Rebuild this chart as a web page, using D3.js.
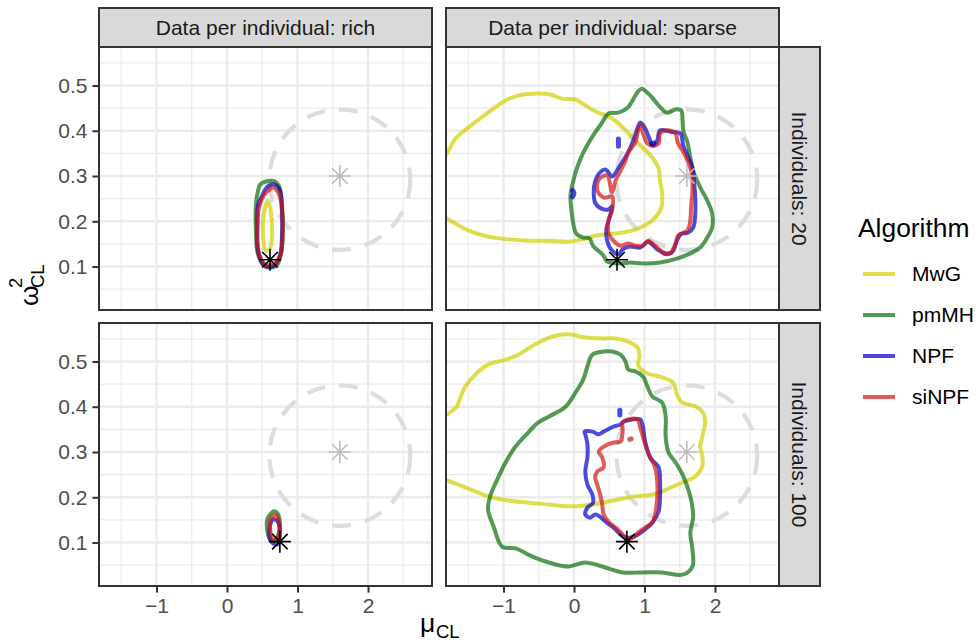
<!DOCTYPE html>
<html>
<head>
<meta charset="utf-8">
<script src="https://cdn.jsdelivr.net/npm/d3@7"></script>
<style>
  body { margin: 0; background: #fff; }
  text { font-family: "Liberation Sans", Arial, Helvetica, sans-serif; }
</style>
</head>
<body>
<div id="chart"></div>
<script>
// facets and series
var dataKinds = ['rich', 'sparse'];
var individuals = [20, 100];
var algorithms = ['MwG', 'pmMH', 'NPF', 'siNPF'];
var xTicks = [-1, 0, 1, 2];
var xMinor = [-1.5, -0.5, 0.5, 1.5, 2.5];
var yTicks = [0.1, 0.2, 0.3, 0.4, 0.5];
var yMinor = [0.05, 0.15, 0.25, 0.35, 0.45, 0.55];

// true value (black star) per number of individuals, prior centre (grey star)
var truth = { 20: [0.61, 0.115], 100: [0.75, 0.102] };
var priorCentre = [1.6, 0.3];
var priorRing = { mu: 1.6, omega2: 0.292, rMu: 1.0, rOmega2: 0.155 };

// contour outlines, [mu, omega2]
var rich20MwG = [[0.58,0.246],[0.62,0.224],[0.64,0.180],[0.61,0.140],[0.55,0.135],[0.51,0.169],[0.52,0.213]];
var rich20pmMH = [[0.44,0.268],[0.47,0.281],[0.55,0.288],[0.68,0.288],[0.74,0.277],[0.78,0.235],[0.79,0.180],
  [0.77,0.131],[0.70,0.102],[0.54,0.100],[0.44,0.127],[0.41,0.180],[0.41,0.235]];
var rich20NPF = [[0.50,0.257],[0.58,0.277],[0.68,0.281],[0.75,0.268],[0.78,0.224],[0.78,0.169],[0.75,0.124],
  [0.64,0.100],[0.52,0.104],[0.44,0.135],[0.43,0.191],[0.44,0.235]];
var rich20siNPF = [[0.65,0.275],[0.74,0.259],[0.78,0.224],[0.79,0.180],[0.77,0.135],[0.70,0.109],[0.55,0.104],
  [0.45,0.131],[0.43,0.180],[0.45,0.228],[0.52,0.257],[0.60,0.270]];

var rich100pmMH = [[0.61,0.162],[0.67,0.169],[0.72,0.164],[0.75,0.144],[0.74,0.122],[0.68,0.104],[0.61,0.107],[0.57,0.129],[0.57,0.151]];
var rich100NPF = [[0.65,0.151],[0.72,0.146],[0.75,0.118],[0.72,0.096],[0.64,0.100],[0.60,0.124]];
var rich100siNPF = [[0.64,0.157],[0.70,0.160],[0.74,0.142],[0.74,0.120],[0.70,0.107],[0.64,0.109],[0.61,0.129],[0.61,0.146]];

var sparse20MwG = [[-2.0,0.31],[-1.80,0.350],[-1.68,0.383],[-1.50,0.407],[-1.22,0.440],[-0.97,0.467],[-0.73,0.480],
  [-0.55,0.482],[-0.34,0.480],[-0.17,0.471],[0.02,0.469],[0.16,0.456],[0.30,0.443],[0.54,0.427],[0.69,0.407],
  [0.83,0.385],[0.97,0.363],[1.11,0.341],[1.20,0.317],[1.22,0.290],[1.25,0.261],[1.24,0.230],[1.15,0.208],
  [1.01,0.191],[0.83,0.180],[0.59,0.173],[0.34,0.169],[0.12,0.160],[-0.08,0.155],[-0.36,0.157],[-0.65,0.157],
  [-0.93,0.160],[-1.22,0.166],[-1.50,0.180],[-1.68,0.195],[-1.80,0.206],[-1.95,0.225],[-2.1,0.26]];
var sparse20pmMH = [[0.96,0.493],[1.08,0.478],[1.20,0.456],[1.32,0.440],[1.44,0.447],[1.52,0.445],[1.54,0.423],
  [1.55,0.401],[1.61,0.374],[1.65,0.341],[1.69,0.312],[1.79,0.275],[1.89,0.246],[1.96,0.217],[1.96,0.186],
  [1.89,0.164],[1.79,0.142],[1.65,0.129],[1.47,0.118],[1.22,0.109],[0.98,0.107],[0.80,0.109],[0.66,0.107],
  [0.47,0.111],[0.42,0.124],[0.27,0.146],[0.22,0.162],[0.13,0.164],[0.03,0.173],[-0.01,0.195],[-0.04,0.230],
  [-0.05,0.257],[-0.02,0.283],[0.03,0.312],[0.10,0.341],[0.17,0.363],[0.29,0.394],[0.39,0.416],[0.49,0.438],
  [0.63,0.440],[0.76,0.451],[0.83,0.467],[0.90,0.485]];
var sparse20NPF = [[0.94,0.418],[1.01,0.405],[1.08,0.378],[1.12,0.367],[1.18,0.378],[1.22,0.401],[1.37,0.398],
  [1.51,0.394],[1.55,0.367],[1.62,0.341],[1.68,0.319],[1.70,0.290],[1.72,0.252],[1.72,0.217],[1.69,0.186],
  [1.62,0.175],[1.51,0.171],[1.45,0.153],[1.40,0.133],[1.31,0.127],[1.18,0.138],[1.05,0.155],[0.94,0.142],
  [0.80,0.144],[0.69,0.138],[0.63,0.127],[0.54,0.135],[0.47,0.157],[0.46,0.184],[0.50,0.206],[0.54,0.233],
  [0.49,0.226],[0.39,0.228],[0.30,0.241],[0.28,0.266],[0.30,0.288],[0.37,0.308],[0.45,0.314],[0.54,0.299],
  [0.63,0.317],[0.72,0.339],[0.80,0.363],[0.87,0.390]];
var sparse20siNPF = [[0.94,0.412],[0.98,0.394],[1.04,0.372],[1.12,0.367],[1.20,0.372],[1.22,0.394],[1.32,0.401],
  [1.44,0.394],[1.47,0.374],[1.54,0.356],[1.61,0.334],[1.67,0.306],[1.68,0.268],[1.66,0.230],[1.65,0.202],
  [1.61,0.180],[1.48,0.169],[1.44,0.151],[1.37,0.131],[1.27,0.131],[1.15,0.146],[1.05,0.157],[0.98,0.146],
  [0.87,0.146],[0.77,0.151],[0.66,0.146],[0.56,0.157],[0.49,0.173],[0.49,0.202],[0.54,0.224],[0.54,0.255],
  [0.43,0.252],[0.33,0.268],[0.36,0.294],[0.47,0.301],[0.54,0.264],[0.59,0.290],[0.66,0.312],[0.73,0.334],
  [0.77,0.352],[0.87,0.374],[0.91,0.401]];

var sparse100MwG = [[-2.05,0.36],[-1.80,0.383],[-1.66,0.401],[-1.61,0.422],[-1.54,0.445],[-1.40,0.471],[-1.22,0.493],
  [-0.97,0.504],[-0.79,0.515],[-0.55,0.538],[-0.31,0.555],[-0.08,0.560],[0.16,0.553],[0.40,0.551],[0.59,0.551],
  [0.77,0.544],[0.90,0.531],[0.93,0.511],[0.91,0.493],[1.01,0.476],[1.25,0.465],[1.40,0.454],[1.47,0.423],
  [1.54,0.409],[1.72,0.401],[1.83,0.387],[1.86,0.365],[1.82,0.334],[1.79,0.312],[1.82,0.290],[1.82,0.268],
  [1.72,0.246],[1.54,0.233],[1.34,0.219],[1.11,0.206],[0.87,0.202],[0.63,0.195],[0.40,0.188],[0.16,0.182],
  [-0.08,0.180],[-0.36,0.184],[-0.65,0.188],[-0.93,0.193],[-1.22,0.202],[-1.40,0.213],[-1.58,0.224],
  [-1.80,0.237],[-2.0,0.245],[-2.2,0.30]];
var sparse100pmMH = [[0.42,0.522],[0.26,0.515],[0.19,0.489],[0.13,0.460],[0.02,0.431],[-0.12,0.400],[-0.36,0.378],
  [-0.51,0.365],[-0.65,0.343],[-0.83,0.312],[-0.97,0.277],[-1.09,0.239],[-1.19,0.202],[-1.22,0.173],[-1.14,0.135],
  [-1.02,0.091],[-0.83,0.087],[-0.59,0.069],[-0.36,0.056],[-0.08,0.047],[0.16,0.056],[0.40,0.047],[0.69,0.034],
  [0.97,0.034],[1.25,0.034],[1.54,0.029],[1.68,0.047],[1.68,0.085],[1.65,0.122],[1.69,0.157],[1.65,0.202],
  [1.54,0.250],[1.44,0.277],[1.34,0.299],[1.30,0.334],[1.30,0.378],[1.25,0.409],[1.11,0.423],[1.04,0.445],
  [0.98,0.467],[0.87,0.478],[0.77,0.482],[0.73,0.500],[0.66,0.515],[0.54,0.522]];
var sparse100NPF = [[0.94,0.372],[0.97,0.361],[1.01,0.323],[1.08,0.288],[1.20,0.266],[1.22,0.235],[1.22,0.199],
  [1.20,0.169],[1.12,0.146],[1.04,0.133],[0.91,0.118],[0.80,0.111],[0.70,0.113],[0.56,0.133],[0.45,0.146],
  [0.37,0.157],[0.30,0.162],[0.23,0.155],[0.16,0.162],[0.19,0.177],[0.27,0.188],[0.26,0.206],[0.19,0.228],
  [0.16,0.257],[0.19,0.288],[0.19,0.317],[0.16,0.339],[0.15,0.345],[0.26,0.345],[0.35,0.339],[0.42,0.345],
  [0.56,0.356],[0.66,0.361],[0.70,0.367],[0.83,0.372]];
var sparse100siNPF = [[0.77,0.372],[0.90,0.372],[0.94,0.354],[1.01,0.317],[1.08,0.288],[1.15,0.266],[1.18,0.235],
  [1.18,0.199],[1.15,0.162],[1.11,0.144],[1.01,0.133],[0.91,0.122],[0.83,0.111],[0.76,0.107],[0.69,0.118],
  [0.59,0.133],[0.49,0.146],[0.42,0.162],[0.40,0.184],[0.37,0.206],[0.33,0.228],[0.30,0.244],[0.33,0.257],
  [0.42,0.266],[0.40,0.288],[0.35,0.301],[0.42,0.312],[0.56,0.321],[0.66,0.323],[0.69,0.345],[0.69,0.365]];

// small isolated contour pieces
var sparse20NPFbits = [[[0.63,0.366],[0.63,0.382]], [[-0.02,0.254],[0.0,0.262],[-0.02,0.268]], [[1.10,0.371],[1.13,0.373]]];
var sparse100NPFbits = [[[0.65,0.382],[0.65,0.392]]];
var sparse100siNPFbits = [[[0.79,0.328],[0.81,0.329]]];

var contours = [
  { kind: 'rich', n: 20, alg: 'MwG', pts: rich20MwG },
  { kind: 'rich', n: 20, alg: 'pmMH', pts: rich20pmMH },
  { kind: 'rich', n: 20, alg: 'NPF', pts: rich20NPF },
  { kind: 'rich', n: 20, alg: 'siNPF', pts: rich20siNPF },
  { kind: 'rich', n: 100, alg: 'pmMH', pts: rich100pmMH },
  { kind: 'rich', n: 100, alg: 'NPF', pts: rich100NPF },
  { kind: 'rich', n: 100, alg: 'siNPF', pts: rich100siNPF },
  { kind: 'sparse', n: 20, alg: 'MwG', pts: sparse20MwG },
  { kind: 'sparse', n: 20, alg: 'pmMH', pts: sparse20pmMH },
  { kind: 'sparse', n: 20, alg: 'NPF', pts: sparse20NPF },
  { kind: 'sparse', n: 20, alg: 'siNPF', pts: sparse20siNPF },
  { kind: 'sparse', n: 100, alg: 'MwG', pts: sparse100MwG },
  { kind: 'sparse', n: 100, alg: 'pmMH', pts: sparse100pmMH },
  { kind: 'sparse', n: 100, alg: 'NPF', pts: sparse100NPF },
  { kind: 'sparse', n: 100, alg: 'siNPF', pts: sparse100siNPF }
];
var bits = [
  { kind: 'sparse', n: 20, alg: 'NPF', pieces: sparse20NPFbits },
  { kind: 'sparse', n: 100, alg: 'NPF', pieces: sparse100NPFbits },
  { kind: 'sparse', n: 100, alg: 'siNPF', pieces: sparse100siNPFbits }
];

var colour = d3.scaleOrdinal().domain(algorithms).range(['#d0d000', '#0a6e0a', '#0000cd', '#d51515']);

var width = 976, height = 643;
var panelW = 333, panelH = 263;
var colLeft = [99, 446];
var rowTop = [47, 323];
var lineW = 4;

var svg = d3.select('#chart').append('svg').attr('width', width).attr('height', height);

var x = d3.scaleLinear().domain([-1.816, 2.908]).range([0, panelW]);
var y = d3.scaleLinear().domain([0.004, 0.585]).range([panelH, 0]);

svg.append('defs').append('clipPath').attr('id', 'clip')
  .append('rect').attr('width', panelW).attr('height', panelH);

var contourLine = d3.line().x(function (d) { return x(d[0]); }).y(function (d) { return y(d[1]); })
  .curve(d3.curveCatmullRomClosed.alpha(0.5));
var pieceLine = d3.line().x(function (d) { return x(d[0]); }).y(function (d) { return y(d[1]); })
  .curve(d3.curveCatmullRom.alpha(0.5));

function star(r) {
  var d = r / Math.SQRT2;
  return 'M' + (-r) + ',0H' + r + 'M0,' + (-r) + 'V' + r +
    'M' + (-d) + ',' + (-d) + 'L' + d + ',' + d + 'M' + (-d) + ',' + d + 'L' + d + ',' + (-d);
}

function styleAxis(a) {
  a.select('.domain').remove();
  a.selectAll('.tick line').attr('stroke', '#333333').attr('stroke-width', 2);
  a.selectAll('.tick text').attr('font-size', 21).attr('fill', '#4d4d4d')
    .attr('font-family', '"Liberation Sans", Arial, sans-serif');
}

dataKinds.forEach(function (kind, ci) {
  individuals.forEach(function (n, ri) {
    var g = svg.append('g').attr('transform', 'translate(' + colLeft[ci] + ',' + rowTop[ri] + ')');

    // grid
    g.selectAll('.gxm').data(xMinor).enter().append('line')
      .attr('x1', x).attr('x2', x).attr('y1', 0).attr('y2', panelH)
      .attr('stroke', '#ebebeb').attr('stroke-width', 1.2);
    g.selectAll('.gym').data(yMinor).enter().append('line')
      .attr('y1', y).attr('y2', y).attr('x1', 0).attr('x2', panelW)
      .attr('stroke', '#ebebeb').attr('stroke-width', 1.2);
    g.selectAll('.gx').data(xTicks).enter().append('line')
      .attr('x1', x).attr('x2', x).attr('y1', 0).attr('y2', panelH)
      .attr('stroke', '#ebebeb').attr('stroke-width', 2.4);
    g.selectAll('.gy').data(yTicks).enter().append('line')
      .attr('y1', y).attr('y2', y).attr('x1', 0).attr('x2', panelW)
      .attr('stroke', '#ebebeb').attr('stroke-width', 2.4);

    var inner = g.append('g').attr('clip-path', 'url(#clip)');

    // prior ring
    inner.append('ellipse')
      .attr('cx', x(priorRing.mu)).attr('cy', y(priorRing.omega2))
      .attr('rx', x(priorRing.mu + priorRing.rMu) - x(priorRing.mu))
      .attr('ry', y(priorRing.omega2) - y(priorRing.omega2 + priorRing.rOmega2))
      .attr('fill', 'none').attr('stroke', '#dcdcdc').attr('stroke-width', 4.2)
      .attr('stroke-dasharray', '19,14');

    // contours
    inner.selectAll('.ct')
      .data(contours.filter(function (c) { return c.kind === kind && c.n === n; }))
      .enter().append('path')
      .attr('d', function (c) { return contourLine(c.pts); })
      .attr('fill', 'none')
      .attr('stroke', function (c) { return colour(c.alg); })
      .attr('stroke-opacity', 0.7)
      .attr('stroke-width', lineW)
      .attr('stroke-linejoin', 'round');

    bits.filter(function (b) { return b.kind === kind && b.n === n; }).forEach(function (b) {
      inner.selectAll(null).data(b.pieces).enter().append('path')
        .attr('d', function (p) { return pieceLine(p); })
        .attr('fill', 'none')
        .attr('stroke', colour(b.alg))
        .attr('stroke-opacity', 0.7)
        .attr('stroke-width', lineW + 1)
        .attr('stroke-linecap', 'round');
    });

    // stars
    inner.append('path').attr('d', star(11))
      .attr('transform', 'translate(' + x(priorCentre[0]) + ',' + y(priorCentre[1]) + ')')
      .attr('stroke', '#bdbdbd').attr('stroke-width', 1.6).attr('fill', 'none');
    inner.append('path').attr('d', star(11))
      .attr('transform', 'translate(' + x(truth[n][0]) + ',' + y(truth[n][1]) + ')')
      .attr('stroke', '#000').attr('stroke-width', 1.6).attr('fill', 'none');

    // border
    g.append('rect').attr('width', panelW).attr('height', panelH)
      .attr('fill', 'none').attr('stroke', '#333333').attr('stroke-width', 2);

    // axes
    if (ci === 0) {
      var ya = g.append('g').call(d3.axisLeft(y).tickValues(yTicks).tickFormat(d3.format('.1f'))
        .tickSize(6.6).tickPadding(5));
      styleAxis(ya);
    }
    if (ri === 1) {
      var xa = g.append('g').attr('transform', 'translate(0,' + panelH + ')')
        .call(d3.axisBottom(x).tickValues(xTicks).tickFormat(d3.format('d')).tickSize(6.6).tickPadding(5));
      styleAxis(xa);
    }

    // strips
    if (ri === 0) {
      svg.append('rect').attr('x', colLeft[ci]).attr('y', 8).attr('width', panelW).attr('height', 39)
        .attr('fill', '#d9d9d9').attr('stroke', '#333333').attr('stroke-width', 2);
      svg.append('text').attr('x', colLeft[ci] + panelW / 2).attr('y', 27.5).attr('dy', '0.35em')
        .attr('text-anchor', 'middle').attr('font-size', 21).attr('fill', '#1a1a1a')
        .text('Data per individual: ' + kind);
    }
    if (ci === 1) {
      svg.append('rect').attr('x', colLeft[1] + panelW).attr('y', rowTop[ri]).attr('width', 41).attr('height', panelH)
        .attr('fill', '#d9d9d9').attr('stroke', '#333333').attr('stroke-width', 2);
      var cx = colLeft[1] + panelW + 20.5, cy = rowTop[ri] + panelH / 2;
      svg.append('text').attr('transform', 'translate(' + cx + ',' + cy + ') rotate(90)')
        .attr('dy', '0.35em').attr('text-anchor', 'middle').attr('font-size', 21).attr('fill', '#1a1a1a')
        .text('Individuals: ' + n);
    }
  });
});

// axis titles
var xt = svg.append('text').attr('font-size', 26.4).attr('fill', '#000');
xt.append('tspan').attr('x', 420).attr('y', 632).text('μ');
xt.append('tspan').attr('x', 436).attr('y', 638).attr('font-size', 18.5).text('CL');

var yt = svg.append('g').attr('transform', 'rotate(-90)');
yt.append('text').attr('x', -306).attr('y', 38).attr('font-size', 26.4).text('ω');
yt.append('text').attr('x', -288).attr('y', 44).attr('font-size', 18.5).text('CL');
yt.append('text').attr('x', -288).attr('y', 22).attr('font-size', 18.5).text('2');

// legend
var legend = svg.append('g');
legend.append('text').attr('x', 858).attr('y', 237).attr('font-size', 26.4).attr('fill', '#000').text('Algorithm');
var keyY = [274, 315, 356, 397];
var items = legend.selectAll('.key').data(algorithms).enter().append('g');
items.append('line')
  .attr('x1', 863).attr('x2', 895)
  .attr('y1', function (d, i) { return keyY[i]; }).attr('y2', function (d, i) { return keyY[i]; })
  .attr('stroke', function (d) { return colour(d); }).attr('stroke-opacity', 0.7).attr('stroke-width', lineW);
items.append('text')
  .attr('x', 912).attr('y', function (d, i) { return keyY[i]; }).attr('dy', '0.35em')
  .attr('font-size', 21).attr('fill', '#000')
  .text(function (d) { return d; });
</script>
</body>
</html>
